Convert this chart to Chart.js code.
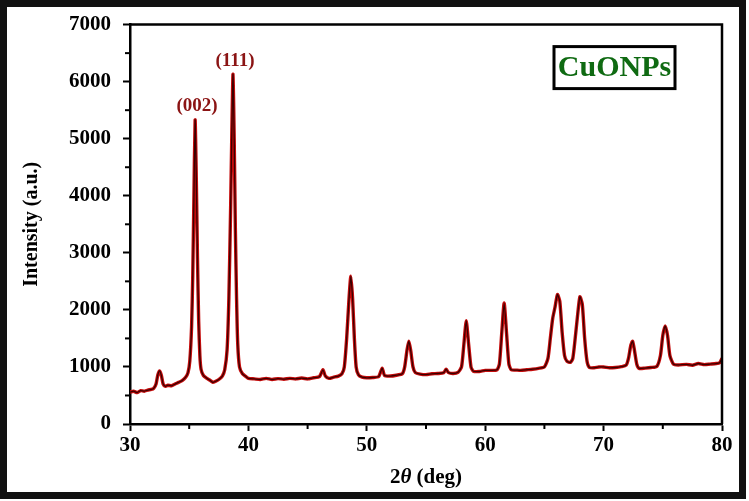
<!DOCTYPE html>
<html>
<head>
<meta charset="utf-8">
<script src="https://cdn.jsdelivr.net/npm/chart.js@4.4.1/dist/chart.umd.min.js"></script>
<style>
  html, body { margin: 0; padding: 0; background: #fff; }
  #wrap { position: relative; width: 749px; height: 501px; }
  canvas { display: block; }
</style>
</head>
<body>
<div id="wrap"><canvas id="c" width="749" height="501"></canvas></div>
<script>
const twoTheta = [
  30.0, 30.3, 30.6, 30.9, 31.2, 31.5, 31.8, 32.0, 32.2, 32.35, 32.5, 32.65, 32.8, 33.0, 33.2, 33.5, 33.8, 34.1, 34.4, 34.7, 34.9,
  35.05, 35.2, 35.3, 35.4, 35.5, 35.6, 35.7, 35.8, 35.9, 36.0, 36.2, 36.5, 36.8, 37.0, 37.2, 37.5, 37.8, 38.0, 38.2, 38.35,
  38.5, 38.6, 38.7, 38.8, 38.9, 39.0, 39.1, 39.25, 39.5, 39.8, 40.0, 40.5, 41.0, 41.5, 42.0, 42.5, 43.0, 43.5, 44.0, 44.5,
  45.0, 45.5, 46.0, 46.3, 46.5, 46.8, 47.2, 47.6, 47.9, 48.1, 48.3, 48.5, 48.65, 48.8, 48.95, 49.1, 49.3, 49.6, 50.0, 50.5,
  51.0, 51.3, 51.5, 52.0, 52.5, 53.0, 53.2, 53.4, 53.55, 53.7, 53.9, 54.1, 54.5, 55.0, 55.5, 56.0, 56.5, 56.7, 56.9, 57.3,
  57.7, 58.0, 58.2, 58.4, 58.6, 58.8, 59.0, 59.5, 60.0, 60.5, 61.0, 61.2, 61.4, 61.6, 61.8, 62.0, 62.2, 62.6, 63.0, 63.5,
  64.0, 64.5, 65.0, 65.3, 65.5, 65.7, 65.9, 66.1, 66.3, 66.5, 66.7, 66.9, 67.2, 67.4, 67.6, 67.8, 68.0, 68.2, 68.4, 68.6,
  68.8, 69.2, 69.6, 70.0, 70.5, 71.0, 71.5, 71.9, 72.1, 72.3, 72.45, 72.6, 72.8, 73.0, 73.5, 74.0, 74.5, 74.8, 75.0, 75.2,
  75.4, 75.6, 75.9, 76.3, 77.0, 77.5, 78.0, 78.5, 79.0, 79.5, 79.8, 80.0
];
const intensity = [
  560, 575, 550, 585, 575, 595, 605, 625, 700, 860, 930, 850, 700, 660, 680, 670, 700, 730, 760, 820, 900,
  1100, 1700, 2600, 4000, 5330, 4300, 2900, 1800, 1200, 960, 850, 800, 760, 730, 745, 780, 840, 950, 1300, 2200,
  3800, 5100, 6130, 5000, 3400, 2200, 1400, 1000, 880, 830, 800, 790, 780, 800, 780, 795, 785, 800, 790, 805,
  790, 810, 830, 950, 840, 800, 820, 840, 880, 1000, 1500, 2200, 2590, 2200, 1500, 1000, 860, 820, 810, 815,
  830, 980, 850, 840, 855, 880, 1000, 1300, 1450, 1300, 1000, 900, 875, 865, 880, 885, 900, 960, 900, 885,
  905, 1000, 1400, 1810, 1400, 1000, 925, 920, 940, 940, 950, 1050, 1600, 2120, 1600, 1050, 950, 945, 940, 950,
  960, 975, 1000, 1150, 1500, 1850, 2050, 2270, 2150, 1600, 1200, 1100, 1080, 1150, 1500, 1900, 2230, 2100, 1500, 1100,
  990, 985, 1000, 1000, 985, 990, 1005, 1030, 1150, 1380, 1450, 1300, 1050, 975, 980, 990, 1010, 1200, 1550, 1720,
  1550, 1200, 1050, 1035, 1045, 1030, 1060, 1040, 1050, 1060, 1075, 1150
];
const xTickLabels = ['30', '40', '50', '60', '70', '80'];
const yTickLabels = ['0', '1000', '2000', '3000', '4000', '5000', '6000', '7000'];
const peakLabels = [{ x: 35.5, y: 5330, text: '(002)' }, { x: 38.7, y: 6130, text: '(111)' }];
const sampleName = 'CuONPs';

const points = twoTheta.map((t, i) => ({ x: t, y: intensity[i] }));
const SERIF = '"Liberation Serif", "Times New Roman", serif';

const decor = {
  id: 'decor',
  afterDraw(chart) {
    const { ctx, chartArea: a, scales: { x, y } } = chart;
    ctx.save();
    // plot box (top + right)
    ctx.strokeStyle = '#000';
    ctx.lineWidth = 2.5;
    ctx.beginPath();
    ctx.moveTo(a.left, a.top);
    ctx.lineTo(a.right, a.top);
    ctx.lineTo(a.right, a.bottom);
    ctx.stroke();
    // minor ticks
    ctx.lineWidth = 2;
    const xt = x.ticks.map(t => t.value), yt = y.ticks.map(t => t.value);
    for (let i = 0; i < xt.length - 1; i++) {
      const px = x.getPixelForValue((xt[i] + xt[i + 1]) / 2);
      ctx.beginPath(); ctx.moveTo(px, a.bottom); ctx.lineTo(px, a.bottom + 5); ctx.stroke();
    }
    for (let i = 0; i < yt.length - 1; i++) {
      const py = y.getPixelForValue((yt[i] + yt[i + 1]) / 2);
      ctx.beginPath(); ctx.moveTo(a.left, py); ctx.lineTo(a.left - 5, py); ctx.stroke();
    }
    // peak labels
    ctx.fillStyle = '#8b1414';
    ctx.font = 'bold 19px ' + SERIF;
    ctx.textAlign = 'center';
    ctx.textBaseline = 'bottom';
    peakLabels.forEach(p => {
      ctx.fillText(p.text, x.getPixelForValue(p.x) + 2, y.getPixelForValue(p.y) - 4);
    });
    // sample box
    const bx = a.right - 168, by = a.top + 22, bw = 121, bh = 42;
    ctx.lineWidth = 3;
    ctx.strokeStyle = '#000';
    ctx.strokeRect(bx, by, bw, bh);
    ctx.fillStyle = '#0f6a12';
    ctx.font = 'bold 30px ' + SERIF;
    ctx.textBaseline = 'middle';
    ctx.fillText(sampleName, bx + bw / 2, by + bh / 2 + 1);
    // axis titles
    ctx.fillStyle = '#000';
    ctx.font = 'bold 21px ' + SERIF;
    const cx = (a.left + a.right) / 2, ty = 478;
    const p1 = '2', p2 = '\u03B8', p3 = ' (deg)';
    const w1 = ctx.measureText(p1).width, w3 = ctx.measureText(p3).width;
    ctx.font = 'italic bold 21px ' + SERIF;
    const w2 = ctx.measureText(p2).width;
    let sx = cx - (w1 + w2 + w3) / 2;
    ctx.textAlign = 'left';
    ctx.font = 'bold 21px ' + SERIF; ctx.fillText(p1, sx, ty);
    ctx.font = 'italic bold 21px ' + SERIF; ctx.fillText(p2, sx + w1, ty);
    ctx.font = 'bold 21px ' + SERIF; ctx.fillText(p3, sx + w1 + w2, ty);
    ctx.translate(32, (a.top + a.bottom) / 2);
    ctx.rotate(-Math.PI / 2);
    ctx.textAlign = 'center';
    ctx.font = 'bold 20px ' + SERIF;
    ctx.fillText('Intensity (a.u.)', 0, 0);
    ctx.restore();
    // outer frame
    ctx.save();
    ctx.strokeStyle = '#111';
    ctx.lineWidth = 7;
    ctx.strokeRect(3.5, 3.5, 739, 492);
    ctx.restore();
  }
};

const whiteBg = {
  id: 'whiteBg',
  beforeDraw(chart) {
    const c = chart.ctx;
    c.save(); c.fillStyle = '#fff'; c.fillRect(0, 0, chart.width, chart.height); c.restore();
  }
};

new Chart(document.getElementById('c'), {
  type: 'line',
  data: {
    datasets: [
      { data: points, borderColor: '#3a0000', borderWidth: 1.3, pointRadius: 0, tension: 0.2, fill: false },
      { data: points, borderColor: '#c40c0c', borderWidth: 3.4, pointRadius: 0, tension: 0.2, fill: false }
    ]
  },
  options: {
    responsive: false,
    animation: false,
    events: [],
    layout: { padding: { left: 0, top: 19, right: 27, bottom: 0 } },
    plugins: { legend: { display: false }, tooltip: { enabled: false } },
    scales: {
      x: {
        type: 'linear', min: 30, max: 80,
        afterFit(s) { s.height = 77; },
        border: { display: true, color: '#000', width: 2.5 },
        grid: { drawOnChartArea: false, drawTicks: true, tickLength: 7, tickColor: '#000', tickWidth: 2 },
        ticks: {
          stepSize: 10, padding: 2, color: '#000',
          font: { family: SERIF, size: 21, weight: 'bold' },
          callback: (v) => xTickLabels.includes(String(v)) ? String(v) : ''
        }
      },
      y: {
        type: 'linear', min: 0, max: 7000,
        afterFit(s) { s.width = 130; },
        border: { display: true, color: '#000', width: 2.5 },
        grid: { drawOnChartArea: false, drawTicks: true, tickLength: 7, tickColor: '#000', tickWidth: 2 },
        ticks: {
          stepSize: 1000, padding: 12, color: '#000',
          font: { family: SERIF, size: 21, weight: 'bold' },
          callback: (v) => yTickLabels.includes(String(v)) ? String(v) : ''
        }
      }
    }
  },
  plugins: [whiteBg, decor]
});
</script>
</body>
</html>
